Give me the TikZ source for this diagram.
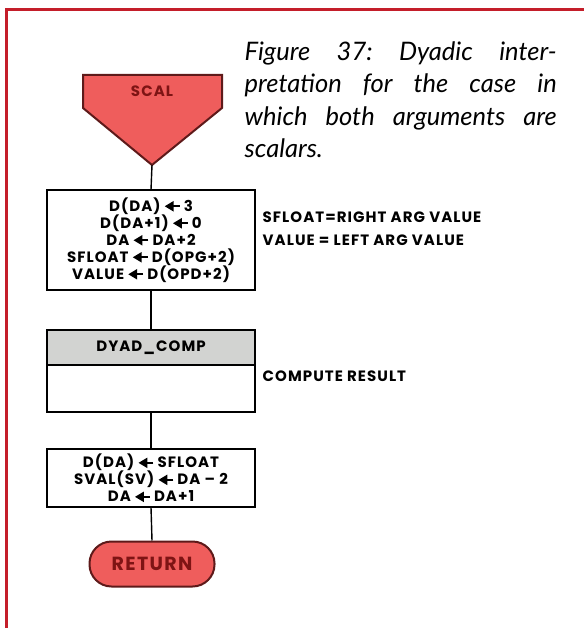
\documentclass[tikz,border=0pt]{standalone}
\usepackage{fontspec}
\setmainfont{Lato}
\newfontfamily\chartfont{Poppins}[LetterSpace=7]
\usetikzlibrary{arrows.meta}

\definecolor{framered}{HTML}{C41E2A}
\definecolor{termfill}{HTML}{EF5D5C}
\definecolor{termline}{HTML}{5E1A1A}
\definecolor{termtext}{HTML}{7E1414}
\definecolor{headgray}{HTML}{D2D3D1}

% assignment arrow of the chart
\newcommand{\asgn}{\hspace{3pt}\tikz[baseline=-5pt]\draw[line width=2.2pt,-{Triangle[length=9pt,width=10pt]}] (15pt,0pt) -- (0pt,0pt);\hspace{3pt}}

\begin{document}
\frenchspacing
\begin{tikzpicture}[x=1pt, y=-1pt, line width=1.4pt,
    term/.style={draw=termline, fill=termfill, line width=2pt},
    termlabel/.style={text=termtext, font=\chartfont\bfseries\fontsize{15}{17}\selectfont},
    procbox/.style={draw, fill=white, minimum width=208pt, align=center, inner sep=0pt,
      font=\chartfont\bfseries\fontsize{15}{17}\selectfont},
    note/.style={anchor=west, inner sep=0pt, font=\chartfont\bfseries\fontsize{15}{16}\selectfont},
    caption/.style={anchor=north west, inner sep=0pt, text width=312pt, align=justify,
      font=\itshape\fontsize{25.5}{32.5}\selectfont}]
    \useasboundingbox (0,0) rectangle (584,628);
    % frame
    \draw[framered, line width=3pt] (6,628) -- (6,10) -- (584,10);
    % caption
    \node[caption] (cap) at (244,41) {Figure 37: Dyadic inter-\linebreak
      pretation for the case in\linebreak which both arguments are\linebreak scalars.};
    % entry
    \draw[term] (83,75) -- (222,75) -- (222,108) -- (152,165) -- (83,108) -- cycle;
    \coordinate (scaltip) at (152,165);
    \node[termlabel] (scal) at (152,91) {SCAL};
    % boxes
    \node[procbox, minimum height=100pt] (setup) at (151,240)
      {D(DA)\asgn 3\\ D(DA+1)\asgn 0\\ DA\asgn DA+2\\ SFLOAT\asgn D(OPG+2)\\ VALUE\asgn D(OPD+2)};
    \node[procbox, fill=headgray, minimum height=35pt] (dyadhead) at (151,347.5) {DYAD\_COMP};
    \node[procbox, minimum height=47pt] (dyadbody) at (151,388.5) {};
    \node[procbox, minimum height=58pt] (store) at (151,478)
      {D(DA)\asgn SFLOAT\\ SVAL(SV)\asgn DA – 2\\ DA\asgn DA+1};
    \node[term, rounded corners=22pt, minimum width=125pt, minimum height=45pt,
      text=termtext, font=\chartfont\bfseries\fontsize{19}{21}\selectfont] (ret) at (152,564) {RETURN};
    % notes
    \node[note] (n1) at (262,217) {SFLOAT=RIGHT ARG VALUE};
    \node[note] (n2) at (262,240) {VALUE = LEFT ARG VALUE};
    \node[note] (n3) at (262,376) {COMPUTE RESULT};
    % flow
    \draw (scaltip) -- (setup.north);
    \draw (setup.south) -- (dyadhead.north);
    \draw (dyadbody.south) -- (store.north);
    \draw (store.south) -- (ret.north);
\end{tikzpicture}
\end{document}
